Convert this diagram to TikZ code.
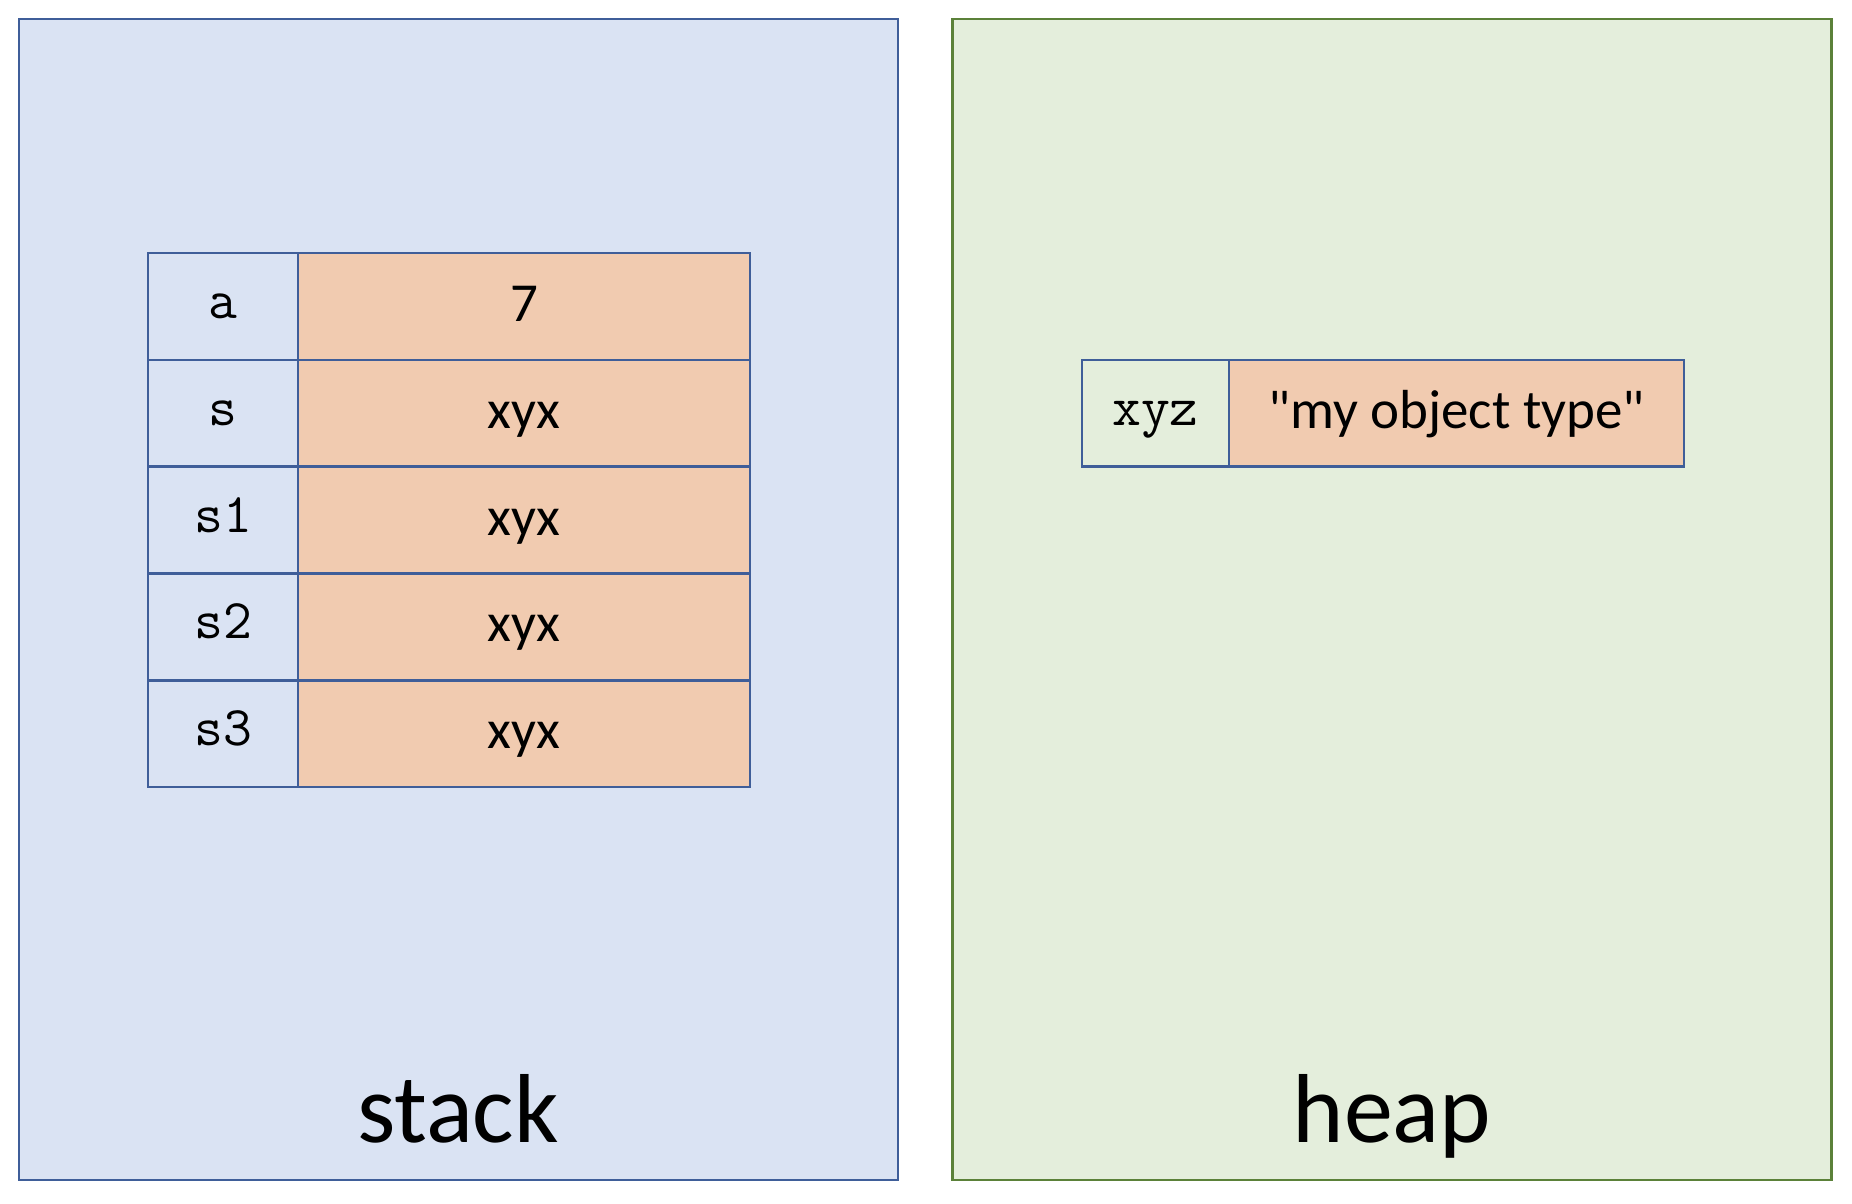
\documentclass[tikz,border=0pt]{standalone}
\usepackage{fontspec}
\setmainfont{Carlito}
\newfontfamily\plaincarlito{Carlito}
\definecolor{stackfill}{HTML}{DAE3F3}
\definecolor{stackline}{HTML}{3F5E99}
\definecolor{heapfill}{HTML}{E4EEDC}
\definecolor{heapline}{HTML}{5B8139}
\definecolor{valfill}{HTML}{F1CBB0}
\tikzset{
  region/.style={rectangle, line width=1.3pt, inner sep=0pt, minimum width=439.5pt, minimum height=580.5pt},
  stackregion/.style={region, draw=stackline, fill=stackfill},
  heapregion/.style={region, draw=heapline, fill=heapfill},
  title/.style={anchor=base, inner sep=0pt, font=\fontsize{49pt}{55pt}\selectfont},
  cell/.style={rectangle, draw=stackline, line width=1.3pt, inner sep=0pt, minimum height=53.4pt},
  namecell/.style={cell, minimum width=75pt, text height=17pt, text depth=5pt, font=\ttfamily\fontsize{28pt}{30pt}\selectfont},
  valcell/.style={cell, fill=valfill, minimum width=226pt, text height=20pt, text depth=5pt, font=\plaincarlito\fontsize{27.5pt}{30pt}\selectfont},
}
\begin{document}
\begin{tikzpicture}[x=0.5pt,y=-0.5pt]
\useasboundingbox (0,0) rectangle (1852,1204);
% regions
\node[stackregion] (stack) at (458.5,599.5) {};
\node[heapregion] (heap) at (1392,599.5) {};
\node[title] (stacklbl) at (458,1142) {stack};
\node[title] (heaplbl) at (1392,1142) {heap};
% stack table
\node[namecell, fill=stackfill] (na) at (223,306.4) {a};
\node[valcell] (va) at (524,306.4) {7};
\node[namecell, fill=stackfill] (ns) at (223,413.2) {s};
\node[valcell] (vs) at (524,413.2) {xyx};
\node[namecell, fill=stackfill] (ns1) at (223,520) {s1};
\node[valcell] (vs1) at (524,520) {xyx};
\node[namecell, fill=stackfill] (ns2) at (223,626.8) {s2};
\node[valcell] (vs2) at (524,626.8) {xyx};
\node[namecell, fill=stackfill] (ns3) at (223,733.6) {s3};
\node[valcell] (vs3) at (524,733.6) {xyx};
% heap object
\node[namecell, fill=heapfill, minimum width=73.5pt] (nxyz) at (1155.5,413.2) {xyz};
\node[valcell, minimum width=227.5pt] (vobj) at (1456.5,413.2) {"my object type"};
\end{tikzpicture}
\end{document}
